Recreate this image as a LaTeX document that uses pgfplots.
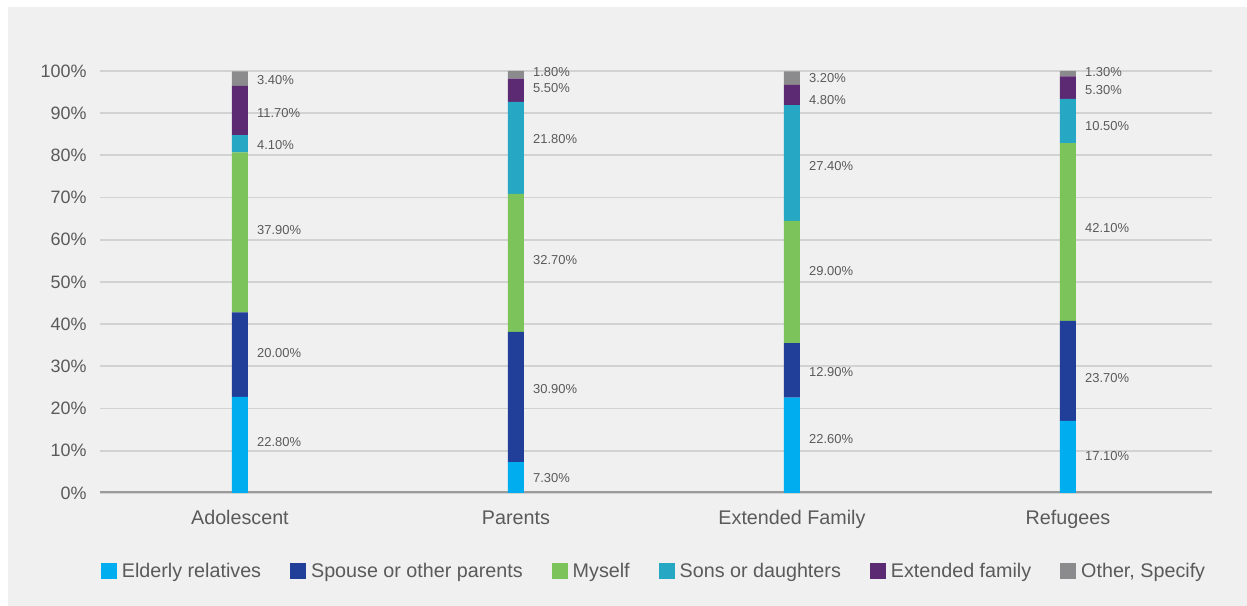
\documentclass[border=0pt]{standalone}
\usepackage{pgfplots}
\pgfplotsset{compat=1.18}
\usepackage{pgfplotstable}
\usepackage{fontspec}
\setmainfont{Liberation Sans}
\definecolor{bgc}{HTML}{F0F0F0}
\definecolor{txt}{HTML}{5A5A5A}
\definecolor{gridc}{HTML}{D2D2D2}
\definecolor{axc}{HTML}{9A9A9C}
\definecolor{cA}{HTML}{00AEEF}
\definecolor{cB}{HTML}{213F99}
\definecolor{cC}{HTML}{7DC35B}
\definecolor{cD}{HTML}{26A8C4}
\definecolor{cE}{HTML}{5C2A72}
\definecolor{cF}{HTML}{8B8B8D}

% x  elderly spouse myself sons extended other
\pgfplotstableread{
x eld spo mys son ext oth
0 22.8 20.0 37.9 4.1 11.7 3.4
1 7.3 30.9 32.7 21.8 5.5 1.8
2 22.6 12.9 29.0 27.4 4.8 3.2
3 17.1 23.7 42.1 10.5 5.3 1.3
}\datatab

% label positions (x, y) and label value
\pgfplotstableread{
x y v
0 12.1 22.8
0 33.2 20.0
0 62.3 37.9
0 82.5 4.1
0 90.0 11.7
0 97.9 3.4
1 3.6 7.3
1 24.6 30.9
1 55.2 32.7
1 83.9 21.8
1 96.0 5.5
1 99.8 1.8
2 12.8 22.6
2 28.7 12.9
2 52.6 29.0
2 77.5 27.4
2 93.1 4.8
2 98.3 3.2
3 8.8 17.1
3 27.3 23.7
3 62.8 42.1
3 87.0 10.5
3 95.5 5.3
3 99.8 1.3
}\labtab

\begin{document}
\begin{tikzpicture}
\useasboundingbox (0bp,0bp) rectangle (1247bp,606bp);
\fill[white] (0bp,0bp) rectangle (1247bp,606bp);
\fill[bgc] (8bp,0bp) rectangle (1247bp,599bp);
\begin{axis}[
  at={(100bp,113bp)}, anchor=south west,
  scale only axis, width=1112bp, height=422bp,
  xmin=-0.507, xmax=3.522, ymin=0, ymax=100,
  ybar stacked, bar width=16bp,
  axis line style={draw=none},
  axis x line*=bottom, axis y line*=left,
  xtick={0,1,2,3},
  xticklabels={Adolescent,Parents,Extended Family,Refugees},
  ytick={0,10,...,100},
  yticklabel={\pgfmathprintnumber{\tick}\%},
  major tick length=0pt,
  ymajorgrids, grid style={draw=gridc, line width=1.8bp},
  tick label style={font=\fontsize{18}{20}\selectfont, text=txt},
  yticklabel style={xshift=-10bp},
  xticklabel style={yshift=-14bp, font=\fontsize{19.8}{22}\selectfont},
  /pgf/number format/assume math mode=true,
  legend style={
    at={(0.5,0)}, anchor=center, yshift=-78bp, xshift=-2bp,
    draw=none, fill=none,
    font=\fontsize{19.8}{22}\selectfont, text=txt,
    legend columns=6,
    /tikz/every even column/.append style={column sep=27bp},
    legend cell align=left,
  },
  legend image code/.code={\fill[#1] (0bp,-8bp) rectangle (16bp,8bp); \path (19bp,0bp);},
]
\addplot[fill=cA, draw=none] table[x=x,y=eld] {\datatab};
\addplot[fill=cB, draw=none] table[x=x,y=spo] {\datatab};
\addplot[fill=cC, draw=none] table[x=x,y=mys] {\datatab};
\addplot[fill=cD, draw=none] table[x=x,y=son] {\datatab};
\addplot[fill=cE, draw=none] table[x=x,y=ext] {\datatab};
\addplot[fill=cF, draw=none] table[x=x,y=oth] {\datatab};
\legend{Elderly relatives,Spouse or other parents,Myself,Sons or daughters,Extended family,{Other, Specify}}
\draw[axc, line width=3bp] (axis cs:-0.507,0) -- (axis cs:3.522,0);
\end{axis}
\begin{axis}[
  at={(100bp,113bp)}, anchor=south west,
  scale only axis, width=1112bp, height=422bp,
  xmin=-0.507, xmax=3.522, ymin=0, ymax=100,
  axis lines=none,
  /pgf/number format/assume math mode=true,
]
\addplot[only marks, mark=none, point meta=explicit,
  nodes near coords={\pgfmathprintnumber[fixed,fixed zerofill,precision=2,assume math mode=true]{\pgfplotspointmeta}\%},
  every node near coord/.append style={anchor=west, xshift=16bp, font=\fontsize{13}{14}\selectfont, text=txt, inner sep=1bp},
] table[x=x,y=y,meta=v] {\labtab};
\end{axis}
\end{tikzpicture}
\end{document}
